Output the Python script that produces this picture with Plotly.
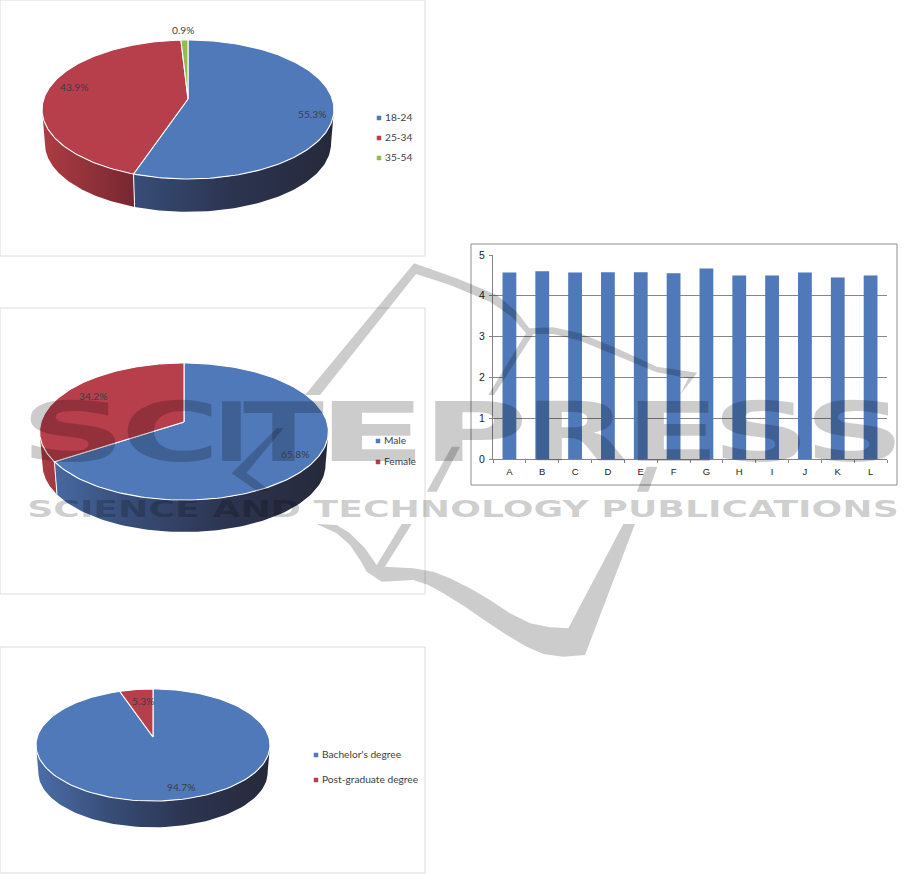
import json
import numpy as np
import plotly.graph_objects as go

# ---------- data ----------
age_labels = ["18-24", "25-34", "35-54"]
age_values = [55.3, 43.9, 0.9]
gender_labels = ["Male", "Female"]
gender_values = [65.8, 34.2]
degree_labels = ["Bachelor's degree", "Post-graduate degree"]
degree_values = [94.7, 5.3]
score_labels = ["A", "B", "C", "D", "E", "F", "G", "H", "I", "J", "K", "L"]
score_values = [4.57, 4.60, 4.57, 4.58, 4.58, 4.55, 4.67, 4.50, 4.50, 4.57, 4.45, 4.50]

# ---------- styles ----------
BLUE, RED, GREEN = "#4f79b8", "#b73e4b", "#96ba4e"
TOPS = [BLUE, RED, GREEN]
SIDES = [
    [[0, "rgb(74,110,168)"], [0.3, "rgb(56,78,120)"], [0.65, "rgb(44,52,80)"], [1, "rgb(37,41,58)"]],
    [[0, "rgb(172,60,66)"], [0.3, "rgb(120,40,50)"], [1, "rgb(80,25,35)"]],
    [[0, "rgb(120,150,60)"], [1, "rgb(70,90,35)"]],
]
TXT = "#3b3f46"
FONT = "Lato"
W, H = 915, 874

fig = go.Figure()


def project(t_deg, pie, depth=0.0, shrink=1.0):
    t = np.radians(t_deg)
    u, v = np.sin(t), np.cos(t)
    w = 1 + pie["k"] * v
    return pie["cx"] + shrink * pie["a"] * u / w, pie["cy"] - shrink * pie["b"] * v / w + depth


def draw_pie(values, pie):
    total = sum(values)
    edges = np.concatenate([[0], np.cumsum(values) / total * 360])
    lim = np.degrees(np.arcsin(pie["k"]))
    front_a, front_b = 90 + lim, 270 - lim
    for i in range(len(values)):
        a, b = max(edges[i], front_a), min(edges[i + 1], front_b)
        if b <= a:
            continue
        t = np.linspace(a, b, 80)
        x1, y1 = project(t, pie)
        x2, y2 = project(t, pie, pie["d"], pie["s"])
        fig.add_trace(go.Scatter(
            x=np.concatenate([x1, x2[::-1]]), y=np.concatenate([y1, y2[::-1]]),
            mode="lines", fill="toself", line=dict(width=0),
            fillgradient=dict(type="horizontal", colorscale=SIDES[i],
                              start=pie["cx"] - pie["a"], stop=pie["cx"] + pie["a"]),
            hoverinfo="skip", showlegend=False, xaxis="x", yaxis="y"))
    for e in edges[1:-1]:
        if front_a < e < front_b:
            x1, y1 = project(e, pie)
            x2, y2 = project(e, pie, pie["d"], pie["s"])
            fig.add_trace(go.Scatter(x=[x1, x2], y=[y1, y2], mode="lines",
                                     line=dict(color="white", width=1),
                                     hoverinfo="skip", showlegend=False))
    for i in range(len(values)):
        t = np.linspace(edges[i], edges[i + 1], 160)
        x, y = project(t, pie)
        fig.add_trace(go.Scatter(
            x=np.concatenate([[pie["cx"]], x, [pie["cx"]]]),
            y=np.concatenate([[pie["cy"]], y, [pie["cy"]]]),
            mode="lines", fill="toself", fillcolor=TOPS[i],
            line=dict(color="white", width=1.1),
            hoverinfo="skip", showlegend=False))


PIE_AGE = dict(cx=188, cy=99, a=144.3, b=67.9, k=0.151, d=34.5, s=0.98)
PIE_GENDER = dict(cx=184, cy=422, a=143, b=67.2, k=0.139, d=33.5, s=0.98)
PIE_DEGREE = dict(cx=153, cy=737, a=115.8, b=54.9, k=0.143, d=27.5, s=0.98)

draw_pie(age_values, PIE_AGE)
draw_pie(gender_values, PIE_GENDER)
draw_pie(degree_values, PIE_DEGREE)

for labels, lx, lys in [(age_labels, 379, [118, 138, 158]),
                        (gender_labels, 378, [441, 462]),
                        (degree_labels, 316, [755, 780])]:
    fig.add_trace(go.Scatter(x=[lx] * len(labels), y=lys, mode="markers",
                             marker=dict(symbol="square", size=4.5, color=TOPS[:len(labels)]),
                             hoverinfo="skip", showlegend=False))
    fig.add_trace(go.Scatter(x=[lx + 6] * len(labels), y=lys, mode="text", text=labels,
                             textposition="middle right",
                             textfont=dict(family=FONT, size=10.2, color=TXT),
                             hoverinfo="skip", showlegend=False))

fig.add_trace(go.Bar(x=score_labels, y=score_values, marker=dict(color="#4f79b8", line=dict(width=0)),
                     xaxis="x2", yaxis="y2", showlegend=False))

value_labels = [(age_values[0], 312, 114), (age_values[1], 74, 87), (age_values[2], 183, 30),
                (gender_values[0], 295, 454), (gender_values[1], 93, 396),
                (degree_values[0], 181, 787), (degree_values[1], 143, 701)]

# watermark: real text, stretched sideways afterwards to its measured width
# (letter, glyph left, glyph right, left bearing, right bearing)
letters = [("S", 28, 118, 8, 8), ("C", 128, 213, 7, 7), ("I", 222, 241, 9, 9), ("T", 245, 322, 2, 2),
           ("E", 328, 421, 11, 6), ("P", 433, 523, 11, 5), ("R", 535, 627, 11, 1), ("E", 635, 715, 10, 5),
           ("S", 720, 802, 8, 8), ("S", 812, 897, 8, 8)]
WM = "rgba(0,0,0,0.2)"
annotations, stretch = [], []
for ch, l, r, bl, br in letters:
    stretch.append([len(annotations), l - bl, r + br])
    annotations.append(dict(text="<b>%s</b>" % ch, x=(l + r) / 2, y=432, xref="x", yref="y", showarrow=False,
                            font=dict(family="DejaVu Sans", size=82, color=WM)))
stretch.append([len(annotations), 27, 899])
annotations.append(dict(text="<b>SCIENCE AND TECHNOLOGY PUBLICATIONS</b>", x=462, y=508.5, xref="x", yref="y",
                        showarrow=False, font=dict(family="DejaVu Sans", size=23, color=WM)))
for v, x, y in value_labels:
    annotations.append(dict(text="%.1f%%" % v, x=x, y=y, xref="x", yref="y", showarrow=False,
                            font=dict(family=FONT, size=10.2, color=TXT)))


def z5(points):
    return "M " + " L ".join("%.1f,%.1f" % (270 + a / 3, 250 + b / 3) for a, b in points) + " Z"


logo = [
    [(105, 435), (432, 40), (560, 85), (680, 135), (740, 185), (778, 235), (850, 232), (930, 250), (1040, 295),
     (1160, 350), (1282, 368), (1230, 435), (1255, 385), (1160, 367), (1040, 317), (930, 272), (850, 252),
     (790, 252), (672, 435), (655, 435), (768, 250), (725, 200), (660, 155), (540, 105), (438, 72), (150, 435)],
    [(545, 590), (570, 590), (500, 725), (470, 725)],
    [(1130, 650), (1162, 650), (1135, 725), (1100, 725)],
    [(140, 822), (200, 825), (240, 850), (285, 895), (320, 945), (395, 822), (425, 822), (345, 950), (430, 955),
     (490, 965), (540, 985), (600, 1015), (660, 1050), (720, 1090), (780, 1120), (840, 1132), (895, 1135),
     (1060, 822), (1095, 822), (945, 1215), (880, 1220), (820, 1212), (770, 1190), (710, 1155), (650, 1115),
     (585, 1070), (520, 1030), (475, 1005), (430, 990), (335, 995), (290, 965), (270, 930), (240, 885), (200, 850)],
    [(20, 535), (40, 535), (-70, 668), (0, 722), (-40, 722), (-115, 670)],
]
shapes = [dict(type="path", path=z5(p), xref="x", yref="y", fillcolor=WM, line=dict(width=0), layer="above")
          for p in logo]
for x0, y0, x1, y1, c in [(0, 0, 425, 256, "#dcdcdc"), (0, 308, 425, 594, "#dcdcdc"),
                          (0, 647, 425, 873, "#dcdcdc"), (471, 244, 897, 485, "#8e8e8e")]:
    shapes.append(dict(type="rect", x0=x0, y0=y0, x1=x1, y1=y1, xref="x", yref="y",
                       line=dict(color=c, width=1), layer="below"))

GRID = "#858585"
fig.update_layout(
    width=W, height=H, margin=dict(l=0, r=0, t=0, b=0, autoexpand=False),
    paper_bgcolor="white", plot_bgcolor="rgba(0,0,0,0)", showlegend=False,
    shapes=shapes, annotations=annotations, bargap=0.58,
    xaxis=dict(domain=[0, 1], range=[0, W], visible=False, fixedrange=True),
    yaxis=dict(domain=[0, 1], range=[H, 0], visible=False, fixedrange=True),
    xaxis2=dict(domain=[493 / W, 887 / W], anchor="y2", type="category", tickson="boundaries",
                ticks="outside", ticklen=3, tickcolor=GRID, showline=True, linecolor=GRID, linewidth=1,
                showgrid=False, ticklabelstandoff=4,
                tickfont=dict(family="Liberation Sans", size=9.5, color="#222")),
    yaxis2=dict(domain=[(H - 459) / H, (H - 255) / H], anchor="x2", range=[0, 5], dtick=1,
                ticks="outside", ticklen=3, tickcolor=GRID, showline=True, linecolor=GRID, linewidth=1,
                showgrid=True, gridcolor=GRID, gridwidth=1, zeroline=False, ticklabelstandoff=2,
                tickfont=dict(family="Liberation Sans", size=10.5, color="#222")),
)

post = """
document.body.style.margin = '0';
var gd = document.getElementById('{plot_id}');
var targets = %s;
targets.forEach(function (t) {
  var a = gd.querySelector('g.annotation[data-index="' + t[0] + '"]');
  if (!a) return;
  var txt = a.querySelector('text');
  var box = txt.getBBox(), rect = txt.getBoundingClientRect();
  var sx = (t[2] - t[1]) / rect.width;
  var g = document.createElementNS('http://www.w3.org/2000/svg', 'g');
  txt.parentNode.insertBefore(g, txt);
  g.appendChild(txt);
  g.setAttribute('transform', 'translate(' + (box.x + t[1] - rect.left) + ' 0) scale(' + sx + ' 1) translate(' + (-box.x) + ' 0)');
});
""" % json.dumps(stretch)

fig.write_html("out.html", post_script=post, config=dict(displayModeBar=False))
